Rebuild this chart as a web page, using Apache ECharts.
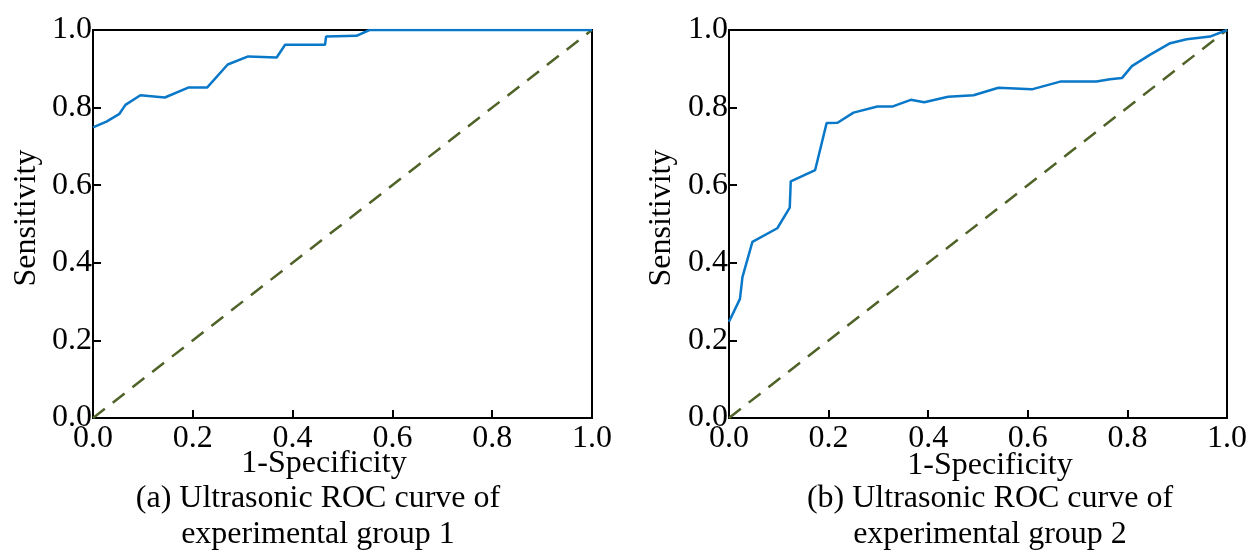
<!DOCTYPE html>
<html>
<head>
<meta charset="utf-8">
<script src="https://cdn.jsdelivr.net/npm/echarts@6/dist/echarts.min.js"></script>
<style>
  html, body { margin: 0; padding: 0; background: #fff; }
  #chart { width: 1252px; height: 551px; }
</style>
</head>
<body>
<div id="chart"></div>
<script>
// ROC points (1-Specificity, Sensitivity)
var fprGroup1 = [0, 0.027, 0.053, 0.065, 0.095, 0.144, 0.192, 0.229, 0.270, 0.311, 0.368, 0.385, 0.465, 0.467, 0.528, 0.554, 1.0];
var tprGroup1 = [0.749, 0.764, 0.784, 0.807, 0.832, 0.826, 0.852, 0.852, 0.911, 0.932, 0.929, 0.962, 0.962, 0.983, 0.985, 1.0, 1.0];

var fprGroup2 = [0, 0.022, 0.027, 0.047, 0.097, 0.122, 0.124, 0.173, 0.196, 0.218, 0.250, 0.298, 0.329, 0.365, 0.392, 0.440, 0.491, 0.541, 0.608, 0.665, 0.738, 0.765, 0.789, 0.809, 0.845, 0.886, 0.919, 0.966, 1.0];
var tprGroup2 = [0.248, 0.307, 0.363, 0.454, 0.489, 0.542, 0.610, 0.639, 0.760, 0.761, 0.787, 0.803, 0.803, 0.820, 0.814, 0.828, 0.832, 0.851, 0.847, 0.867, 0.867, 0.873, 0.876, 0.907, 0.936, 0.966, 0.976, 0.983, 1.0];

var refLine = [0, 1];
var tickLabels = ['0.0', '0.2', '0.4', '0.6', '0.8', '1.0'];
var captions = [
  '(a) Ultrasonic ROC curve of\nexperimental group 1',
  '(b) Ultrasonic ROC curve of\nexperimental group 2'
];

var serif = "'Liberation Serif', 'Times New Roman', serif";
var fontSize = 32;

function pairs(xs, ys) {
  return xs.map(function (x, i) { return [x, ys[i]]; });
}

function makeAxis(idx) {
  return {
    type: 'value',
    gridIndex: idx,
    min: 0,
    max: 1,
    interval: 0.2,
    axisLine: { show: false },
    splitLine: { show: false },
    axisTick: { show: true, inside: true, length: 8, lineStyle: { color: '#000', width: 2 } },
    axisLabel: {
      color: '#000',
      fontFamily: serif,
      fontSize: fontSize,
      formatter: function (v) { return tickLabels[Math.round(v * 5)]; }
    }
  };
}

var chart = echarts.init(document.getElementById('chart'));

var grids = [
  { left: 93, top: 30, width: 499, height: 388 },
  { left: 729, top: 30, width: 498, height: 388 }
];

var xAxes = [], yAxes = [];
grids.forEach(function (g, i) {
  g.show = true;
  g.borderColor = '#000';
  g.borderWidth = 2;
  g.backgroundColor = 'transparent';
  var xa = makeAxis(i);
  xa.axisLabel.margin = 5;
  xAxes.push(xa);
  var ya = makeAxis(i);
  ya.axisLabel.margin = 1;
  ya.axisLabel.padding = [0, 0, 8, 0];
  yAxes.push(ya);
});

function diag(i) {
  return {
    type: 'line',
    xAxisIndex: i,
    yAxisIndex: i,
    data: pairs(refLine, refLine),
    showSymbol: false,
    lineStyle: { color: '#4f6228', width: 2.5, type: [15, 10] },
    z: 2
  };
}

function roc(i, xs, ys) {
  return {
    type: 'line',
    xAxisIndex: i,
    yAxisIndex: i,
    data: pairs(xs, ys),
    showSymbol: false,
    lineStyle: { color: '#0a78c8', width: 2.5 },
    z: 3
  };
}

function label(x, y, text, rot) {
  return {
    type: 'text',
    x: x,
    y: y,
    rotation: rot || 0,
    style: {
      text: text,
      fill: '#000',
      fontFamily: serif,
      fontSize: fontSize,
      lineHeight: 36,
      align: 'center',
      verticalAlign: 'middle'
    }
  };
}

var option = {
  animation: false,
  grid: grids,
  xAxis: xAxes,
  yAxis: yAxes,
  series: [
    diag(0), roc(0, fprGroup1, tprGroup1),
    diag(1), roc(1, fprGroup2, tprGroup2)
  ],
  graphic: [
    label(27, 218, 'Sensitivity', Math.PI / 2),
    label(662, 218, 'Sensitivity', Math.PI / 2),
    label(324, 464, '1-Specificity'),
    label(990, 466, '1-Specificity'),
    label(318, 517, captions[0]),
    label(990, 517, captions[1])
  ]
};

chart.setOption(option);
</script>
</body>
</html>
